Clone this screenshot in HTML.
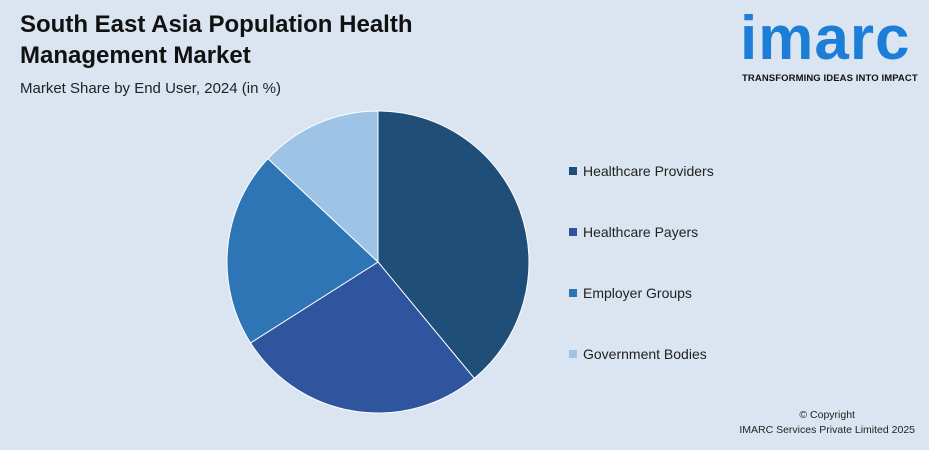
<!DOCTYPE html>
<html><head><meta charset="utf-8"><style>
body{margin:0;width:929px;height:450px;overflow:hidden;background:#dbe5f1;font-family:"Liberation Sans",sans-serif;position:relative}
.t{position:absolute;left:20px;top:9px;font-size:24px;font-weight:bold;color:#111;line-height:31px}
.st{position:absolute;left:20px;top:80px;font-size:15px;color:#222}
.lg{position:absolute;left:569px;font-size:14px;color:#222;display:flex;align-items:center}
.lg span{width:8px;height:8px;display:inline-block;margin-right:6px}
.cp{position:absolute;right:14px;top:408px;font-size:10.5px;color:#222;text-align:center;line-height:15px}
</style></head><body>
<div class="t">South East Asia Population Health<br>Management Market</div>
<div class="st">Market Share by End User, 2024 (in %)</div>
<div style="position:absolute;left:740px;top:5px;width:185px;">
<div style="font-size:62px;font-weight:bold;color:#1c7ed6;letter-spacing:1px;line-height:68px">imarc</div>
<div style="font-size:9.5px;font-weight:bold;color:#111;margin-top:0px;letter-spacing:0.1px;margin-left:2px;white-space:nowrap">TRANSFORMING IDEAS INTO IMPACT</div>
</div>
<svg id="pie" width="929" height="450" style="position:absolute;left:0;top:0"></svg>
<div id="legend"></div>
<div class="cp">© Copyright<br>IMARC Services Private Limited 2025</div>
<script>
const categories=["Healthcare Providers","Healthcare Payers","Employer Groups","Government Bodies"];
const values=[39,27,21,13];
const colors=["#1f4e79","#2e559e","#2e75b6","#9dc3e6"];
const cx=378,cy=262,r=151;
const svg=document.getElementById('pie');
const total=values.reduce((a,b)=>a+b,0);
let a0=0;
values.forEach((v,i)=>{
 const a1=a0+v/total*2*Math.PI;
 const x0=cx+r*Math.sin(a0),y0=cy-r*Math.cos(a0),x1=cx+r*Math.sin(a1),y1=cy-r*Math.cos(a1);
 const p=document.createElementNS('http://www.w3.org/2000/svg','path');
 p.setAttribute('d',`M${cx},${cy}L${x0},${y0}A${r},${r} 0 ${a1-a0>Math.PI?1:0} 1 ${x1},${y1}Z`);
 p.setAttribute('fill',colors[i]);p.setAttribute('stroke','#fff');p.setAttribute('stroke-width','1');
 
 
 svg.appendChild(p);a0=a1;
});
const lg=document.getElementById('legend');
categories.forEach((c,i)=>{
 const d=document.createElement('div');d.className='lg';d.style.top=(163+i*61)+'px';
 
 
 d.innerHTML=`<span style="background:${colors[i]}"></span>${c}`;lg.appendChild(d);
});
</script>
</body></html>
